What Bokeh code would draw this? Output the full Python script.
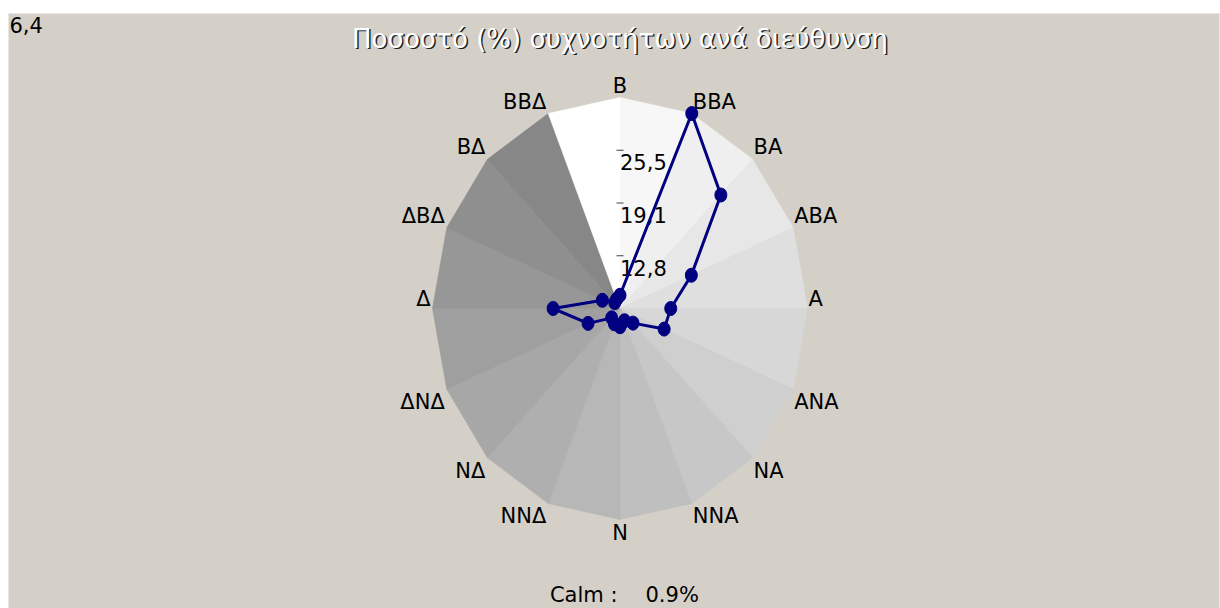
import numpy as np
from bokeh.plotting import figure
from bokeh.models import Range1d
from bokeh.core.properties import value
from bokeh.embed import file_html
from bokeh.resources import INLINE

# ---------------- data ----------------
directions = ["Β", "ΒΒΑ", "ΒΑ", "ΑΒΑ", "Α", "ΑΝΑ", "ΝΑ", "ΝΝΑ",
              "Ν", "ΝΝΔ", "ΝΔ", "ΔΝΔ", "Δ", "ΔΒΔ", "ΒΔ", "ΒΒΔ"]
frequency = [1.6, 25.5, 19.4, 10.5, 6.9, 6.5, 2.5, 1.6,
             2.2, 2.0, 1.6, 4.7, 9.1, 2.6, 1.0, 1.2]
tick_labels = ["6,4", "12,8", "19,1", "25,5"]
title_text = "Ποσοστό (%) συχνοτήτων ανά διεύθυνση"
calm_label = "Calm :"
calm_value = "0.9%"

# ---------------- layout (page pixels) ----------------
W, H = 1220, 608
LEFT, TOP, RIGHT = 8, 13, 1
FX0, FY0 = LEFT, TOP            # frame top-left on page
FX1, FY1 = W - RIGHT, H         # frame bottom-right on page
CX, CY = 619.5, 308.0           # rose centre on page
RX, RY = 187.5, 211.0           # rose radii (px)

rmax = max(frequency)
sx = RX / rmax
sy = RY / rmax

x0 = (FX0 - CX) / sx
x1 = (FX1 - CX) / sx
y1 = (CY - FY0) / sy
y0 = -(FY1 - CY) / sy


def px(x, y):
    """page pixel -> data coords"""
    return (x - CX) / sx, (CY - y) / sy


FONT = "DejaVu Sans"
LBL = "21px"
TXT = dict(text_font=value(FONT), text_font_size=LBL,
           text_color="black", text_baseline="middle")

p = figure(width=W, height=H, x_range=Range1d(x0, x1), y_range=Range1d(y0, y1),
           output_backend="svg", toolbar_location=None,
           x_axis_location=None, y_axis_location=None,
           min_border_left=LEFT, min_border_right=RIGHT, min_border_bottom=0,
           min_border_top=TOP, background_fill_color="#d4d0c8",
           border_fill_color="white", outline_line_color=None)
p.xgrid.visible = False
p.ygrid.visible = False

n = len(directions)
theta = np.deg2rad(np.arange(n) * 360.0 / n)
vx = rmax * np.sin(theta)
vy = rmax * np.cos(theta)

# shaded wedges of the rose background
xs, ys, cols = [], [], []
for k in range(n):
    k2 = (k + 1) % n
    xs.append([0, vx[k], vx[k2]])
    ys.append([0, vy[k], vy[k2]])
    g = 255 if k == n - 1 else 247 - 8 * k
    cols.append("#%02x%02x%02x" % (g, g, g))
p.patches(xs, ys, fill_color=cols, line_color=cols, line_width=0.6)

# direction labels
for k, name in enumerate(directions):
    s, c = np.sin(theta[k]), np.cos(theta[k])
    if s > 0.01:
        align, dx = "left", 1
    elif s < -0.01:
        align, dx = "right", -2
    else:
        align, dx = "center", 0
    if abs(c) < 0.01:
        dy = -10
    elif c > 0:
        dy = -12
    else:
        dy = 13
    p.text(x=[vx[k]], y=[vy[k]], text=[name], x_offset=dx, y_offset=dy,
           text_align=align, **TXT)

# radial ticks and their labels
tick_r = [rmax * (i + 1) / 4 for i in range(3)]
p.scatter(x=[0] * 3, y=tick_r, marker="dash", size=7, line_color="#404040",
          line_width=1)
p.text(x=[0] * 3, y=tick_r, text=tick_labels[1:], x_offset=0, y_offset=12,
       text_align="left", **TXT)
lx, ly = px(9, 24)
p.text(x=[lx], y=[ly], text=[tick_labels[0]], text_align="left", **TXT)

# data line
r = np.array(frequency)
dx_ = r * np.sin(theta)
dy_ = r * np.cos(theta)
p.line(list(dx_) + [dx_[0]], list(dy_) + [dy_[0]], line_color="#000080",
       line_width=3)
p.ellipse(x=dx_, y=dy_, width=12, height=14, width_units="screen",
          height_units="screen", fill_color="#000080", line_color="#000080")

# title with shadow
tx, ty = px(619.5, 38)
p.text(x=[tx], y=[ty], text=[title_text], x_offset=1.5, y_offset=1.5,
       text_align="center", text_baseline="middle", text_font=value(FONT),
       text_font_size="26px", text_color="#202020")
p.text(x=[tx], y=[ty], text=[title_text], text_align="center",
       text_baseline="middle", text_font=value(FONT), text_font_size="26px",
       text_color="white")

# calm
c1x, c1y = px(617, 594.5)
c2x, c2y = px(645, 594.5)
p.text(x=[c1x], y=[c1y], text=[calm_label], text_align="right", **TXT)
p.text(x=[c2x], y=[c2y], text=[calm_value], text_align="left", **TXT)

open("out.html", "w").write(file_html(p, INLINE))
